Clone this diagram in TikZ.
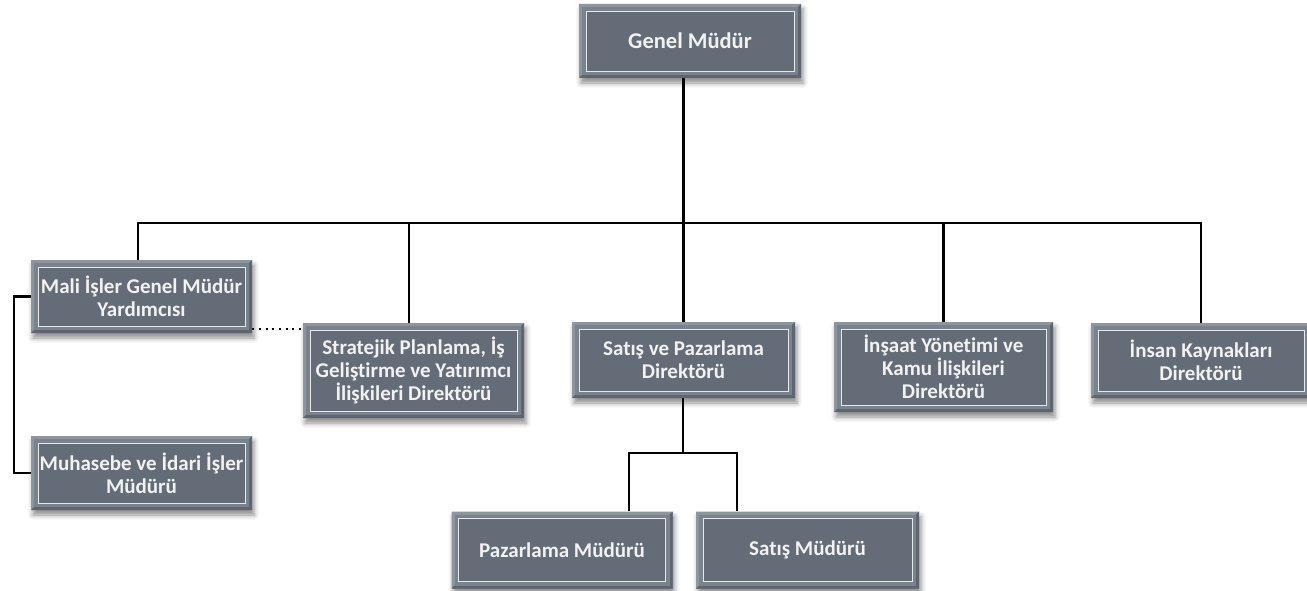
\documentclass[tikz,border=0pt]{standalone}
\usepackage{fontspec}
\setmainfont{Carlito}[Ligatures=NoCommon]
\usetikzlibrary{shadows.blur}
\definecolor{boxfill}{HTML}{646C77}
\definecolor{bevlight}{HTML}{8D959F}
\definecolor{bevdark}{HTML}{5E6570}
\definecolor{bevmid}{HTML}{7A828C}
\definecolor{txt}{HTML}{F2F2F2}
\definecolor{inline}{HTML}{E6E8EA}
\tikzset{
  orgbox/.style={rectangle, fill=bevmid, inner sep=0pt, text=txt, align=center,
    font=\bfseries\fontsize{21}{23}\selectfont,
    blur shadow={shadow xshift=2pt, shadow yshift=-5pt, shadow blur radius=5pt, shadow opacity=45},
    path picture={
      \coordinate (q1) at (path picture bounding box.south west);
      \coordinate (q3) at (path picture bounding box.north east);
      \coordinate (q2) at (q1|-q3);
      \coordinate (q4) at (q3|-q1);
      \fill[bevlight] (q1) -- (q2) -- (q3) -- ([xshift=-7pt,yshift=-7pt]q3) -- ([xshift=7pt,yshift=-7pt]q2) -- ([xshift=7pt,yshift=7pt]q1) -- cycle;
      \fill[bevdark] (q1) -- (q4) -- (q3) -- ([xshift=-7pt,yshift=-7pt]q3) -- ([xshift=-7pt,yshift=7pt]q4) -- ([xshift=7pt,yshift=7pt]q1) -- cycle;
      \fill[bevmid] ([xshift=3pt,yshift=3pt]q1) rectangle ([xshift=-3pt,yshift=-3pt]q3);
      \fill[boxfill] ([xshift=7pt,yshift=7pt]q1) rectangle ([xshift=-7pt,yshift=-7pt]q3);
      \draw[inline, line width=0.9pt] ([xshift=7pt,yshift=7pt]q1) rectangle ([xshift=-7pt,yshift=-7pt]q3);
    }},
  sz/.style 2 args={minimum width=#1pt, minimum height=#2pt},
  conn/.style={line width=2.2pt, black},
  dotline/.style={line width=2.2pt, black, dash pattern=on 2pt off 4.7pt}
}
\begin{document}
\begin{tikzpicture}[x=1pt, y=-1pt]
\useasboundingbox (0,0) rectangle (1307,591);
\node[orgbox, sz={222}{74}, font=\bfseries\fontsize{22.5}{24}\selectfont] (gm) at (690,41) {Genel Müdür};
\node[orgbox, sz={221}{73}] (mali) at (141.5,296.5) {Mali İşler Genel Müdür\\Yardımcısı};
\node[orgbox, sz={221}{95}] (str) at (413.5,370.5) {Stratejik Planlama, İş\\Geliştirme ve Yatırımcı\\İlişkileri Direktörü};
\node[orgbox, sz={223}{76}] (spv) at (683.5,360) {Satış ve Pazarlama\\Direktörü};
\node[orgbox, sz={219}{90}] (ins) at (943.5,367) {İnşaat Yönetimi ve\\Kamu İlişkileri\\Direktörü};
\node[orgbox, sz={220}{75}] (ik) at (1201,360.5) {İnsan Kaynakları\\Direktörü};
\node[orgbox, sz={221}{74}] (muh) at (141.5,473) {Muhasebe ve İdari İşler\\Müdürü};
\node[orgbox, sz={221}{77}] (pm) at (562,550) {Pazarlama Müdürü};
\node[orgbox, sz={223}{77}] (sm) at (807.5,550) {Satış Müdürü};

\coordinate (bus) at (683,223);
\coordinate (sub) at (683,453);
\draw[conn] (gm.south -| spv.north) -- (spv.north);
\draw[conn] ([xshift=-3.5pt]mali.north) -- ([xshift=-3.5pt]mali.north |- bus) -- (bus -| ik.north) -- (ik.north);
\draw[conn] ([xshift=-4.5pt]str.north) -- ([xshift=-4.5pt]str.north |- bus);
\draw[conn] (ins.north) -- (ins.north |- bus);
\draw[conn] (spv.south -| sub) -- (sub);
\draw[conn] ([xshift=67pt]pm.north) -- ([xshift=67pt]pm.north |- sub) -- ([xshift=-70.5pt]sm.north |- sub) -- ([xshift=-70.5pt]sm.north);
\draw[conn] (mali.west) -- ++(-17,0) |- (muh.west);
\draw[dotline] ([yshift=4pt]mali.south east) -- ([yshift=4pt]mali.south east -| str.west);
\end{tikzpicture}
\end{document}
